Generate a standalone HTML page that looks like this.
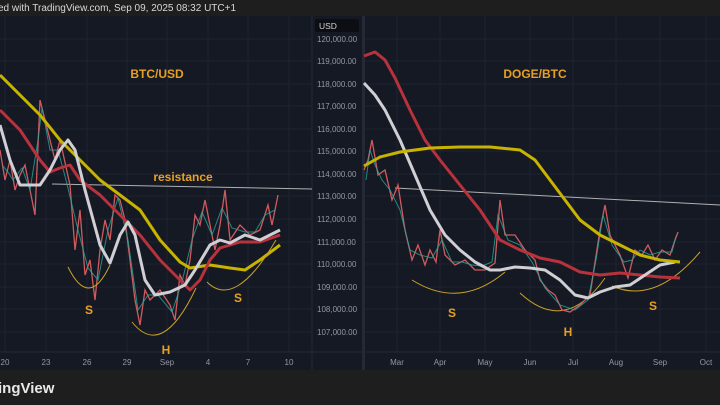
<!DOCTYPE html>
<html><head><meta charset="utf-8"><style>
html,body{margin:0;padding:0;background:#1e1e1e;width:720px;height:405px;overflow:hidden;font-family:"Liberation Sans",sans-serif}
</style></head><body>
<svg width="720" height="405" xmlns="http://www.w3.org/2000/svg" font-family="Liberation Sans, sans-serif">
<rect width="720" height="405" fill="#1e1e1e"/>
<text x="-2" y="11" fill="#d8d8d8" font-size="10">ed with TradingView.com, Sep 09, 2025 08:32 UTC+1</text>
<rect x="0" y="16" width="720" height="354" fill="#151924"/>
<g stroke="#1f2331" stroke-width="1">
<line x1="0" y1="39" x2="720" y2="39"/><line x1="0" y1="61" x2="720" y2="61"/><line x1="0" y1="84" x2="720" y2="84"/><line x1="0" y1="106" x2="720" y2="106"/><line x1="0" y1="129" x2="720" y2="129"/><line x1="0" y1="151" x2="720" y2="151"/><line x1="0" y1="174" x2="720" y2="174"/><line x1="0" y1="196" x2="720" y2="196"/><line x1="0" y1="219" x2="720" y2="219"/><line x1="0" y1="242" x2="720" y2="242"/><line x1="0" y1="264" x2="720" y2="264"/><line x1="0" y1="287" x2="720" y2="287"/><line x1="0" y1="309" x2="720" y2="309"/><line x1="0" y1="332" x2="720" y2="332"/>
<line x1="5" y1="16" x2="5" y2="352"/><line x1="46" y1="16" x2="46" y2="352"/><line x1="87" y1="16" x2="87" y2="352"/><line x1="127" y1="16" x2="127" y2="352"/><line x1="167" y1="16" x2="167" y2="352"/><line x1="208" y1="16" x2="208" y2="352"/><line x1="248" y1="16" x2="248" y2="352"/><line x1="289" y1="16" x2="289" y2="352"/>
<line x1="397" y1="16" x2="397" y2="352"/><line x1="440" y1="16" x2="440" y2="352"/><line x1="485" y1="16" x2="485" y2="352"/><line x1="530" y1="16" x2="530" y2="352"/><line x1="573" y1="16" x2="573" y2="352"/><line x1="616" y1="16" x2="616" y2="352"/><line x1="660" y1="16" x2="660" y2="352"/><line x1="706" y1="16" x2="706" y2="352"/>
</g>
<rect x="312" y="16" width="50" height="354" fill="#151924"/>
<line x1="312" y1="16" x2="312" y2="370" stroke="#252936"/>
<rect x="362" y="16" width="3" height="354" fill="#252936"/>
<line x1="0" y1="352" x2="720" y2="352" stroke="#252936"/>
<rect x="315" y="19" width="44" height="13" rx="2" fill="#0c0e14"/>
<text x="319" y="29" fill="#d0d0d0" font-size="8.5">USD</text>
<g fill="#9598a1" font-size="8" text-anchor="start">
<text x="317" y="42">120,000.00</text><text x="317" y="64">119,000.00</text><text x="317" y="87">118,000.00</text><text x="317" y="109">117,000.00</text><text x="317" y="132">116,000.00</text><text x="317" y="154">115,000.00</text><text x="317" y="177">114,000.00</text><text x="317" y="199">113,000.00</text><text x="317" y="222">112,000.00</text><text x="317" y="245">111,000.00</text><text x="317" y="267">110,000.00</text><text x="317" y="290">109,000.00</text><text x="317" y="312">108,000.00</text><text x="317" y="335">107,000.00</text>
</g>
<g fill="#9598a1" font-size="8" text-anchor="middle">
<text x="5" y="365">20</text><text x="46" y="365">23</text><text x="87" y="365">26</text><text x="127" y="365">29</text><text x="167" y="365">Sep</text><text x="208" y="365">4</text><text x="248" y="365">7</text><text x="289" y="365">10</text>
<text x="397" y="365">Mar</text><text x="440" y="365">Apr</text><text x="485" y="365">May</text><text x="530" y="365">Jun</text><text x="573" y="365">Jul</text><text x="616" y="365">Aug</text><text x="660" y="365">Sep</text><text x="706" y="365">Oct</text>
</g>
<text x="-2" y="393" fill="#e8e8e8" font-size="15" font-weight="bold">ingView</text>
<!-- left chart -->
<line x1="52" y1="184" x2="312" y2="189" stroke="#b0b0b0" stroke-width="1"/>
<polyline fill="none" stroke="#d15a5e" stroke-width="1.3" points="0,150 5,180 10,160 15,190 20,175 25,165 35,215 40,100 45,120 55,160 60,140 70,185 75,250 80,210 85,275 90,260 95,300 100,250 105,220 110,240 115,195 120,200 125,220 130,260 135,300 140,325 145,290 150,300 160,290 170,305 175,320 180,275 185,285 190,260 195,215 200,225 205,200 210,225 215,250 220,225 225,190 230,240 240,225 250,235 260,230 268,205 272,225 278,195"/>
<polyline fill="none" stroke="#26a69a" stroke-width="1" opacity="0.8" points="2,165 8,172 13,180 22,168 30,190 38,140 42,108 50,150 58,150 66,180 78,230 88,268 98,280 108,230 118,198 128,240 138,310 148,295 158,295 172,312 182,282 192,240 202,212 212,235 222,208 232,228 245,232 255,232 265,215 275,210"/>
<polyline fill="none" stroke="#c8b400" stroke-width="3" stroke-linejoin="round" points="0,75 20,95 40,115 60,140 80,160 100,180 120,195 140,210 160,240 180,262 190,268 210,265 230,268 245,270 260,260 280,245"/>
<polyline fill="none" stroke="#b8323c" stroke-width="3" stroke-linejoin="round" points="0,110 20,130 40,160 50,172 60,168 70,165 80,180 100,195 120,215 140,235 160,260 180,280 190,290 200,280 210,260 220,248 240,242 260,242 280,235"/>
<polyline fill="none" stroke="#cfcfd4" stroke-width="3" stroke-linejoin="round" points="0,125 10,160 20,185 40,185 50,170 60,150 68,140 75,150 85,190 100,245 110,263 120,235 128,222 135,235 145,280 155,295 170,292 185,285 195,270 210,245 220,240 230,243 245,235 260,240 280,230"/>
<g fill="none" stroke="#c9a227" stroke-width="1">
<path d="M68,267 Q89,310 110,265"/><path d="M132,322 Q162,360 196,288"/><path d="M207,282 Q235,310 276,240"/>
<path d="M412,280 Q460,310 505,272"/><path d="M520,293 Q565,335 605,278"/><path d="M612,286 Q655,305 700,252"/>
</g>
<g fill="#e8a020" font-weight="bold" font-size="12" text-anchor="middle">
<text x="157" y="78">BTC/USD</text><text x="183" y="181">resistance</text>
<text x="89" y="314">S</text><text x="166" y="354">H</text><text x="238" y="302">S</text>
<text x="535" y="78">DOGE/BTC</text>
<text x="452" y="317">S</text><text x="568" y="336">H</text><text x="653" y="310">S</text>
</g>
<!-- right chart -->
<line x1="395" y1="188" x2="720" y2="205" stroke="#b0b0b0" stroke-width="1"/>
<polyline fill="none" stroke="#d15a5e" stroke-width="1.3" points="364,170 368,160 372,140 378,175 385,170 392,200 398,185 405,230 412,260 418,245 425,265 430,250 436,262 440,230 445,255 455,265 465,260 475,270 485,270 495,263 500,200 505,235 515,235 525,250 535,260 540,280 548,290 555,295 562,310 570,312 580,305 590,295 600,230 605,205 610,235 620,255 628,278 635,250 642,255 648,245 655,260 662,250 670,255 675,240 678,232"/>
<polyline fill="none" stroke="#26a69a" stroke-width="1" opacity="0.8" points="366,180 370,150 375,165 382,180 390,190 400,210 410,250 420,255 432,258 442,240 452,262 462,262 472,265 482,266 492,262 498,215 508,240 520,245 532,262 545,288 560,305 575,310 588,300 596,260 603,215 612,245 624,262 632,260 640,250 650,255 660,252 672,252 676,236"/>
<polyline fill="none" stroke="#b8323c" stroke-width="3" stroke-linejoin="round" points="364,56 375,52 385,60 395,78 410,110 425,140 440,160 460,185 480,210 500,240 520,250 540,258 560,262 580,272 600,275 620,273 640,275 660,277 680,278"/>
<polyline fill="none" stroke="#cfcfd4" stroke-width="3" stroke-linejoin="round" points="364,83 375,95 385,110 400,140 415,175 430,210 445,235 460,250 475,262 490,270 500,270 515,267 530,268 545,270 560,280 575,295 588,298 600,292 615,287 630,285 645,275 660,265 675,262"/>
<polyline fill="none" stroke="#c8b400" stroke-width="3" stroke-linejoin="round" points="364,166 380,157 400,152 430,148 460,147 490,147 520,150 535,160 550,180 565,200 580,220 600,235 620,245 640,255 660,260 680,262"/>
</svg>
</body></html>
